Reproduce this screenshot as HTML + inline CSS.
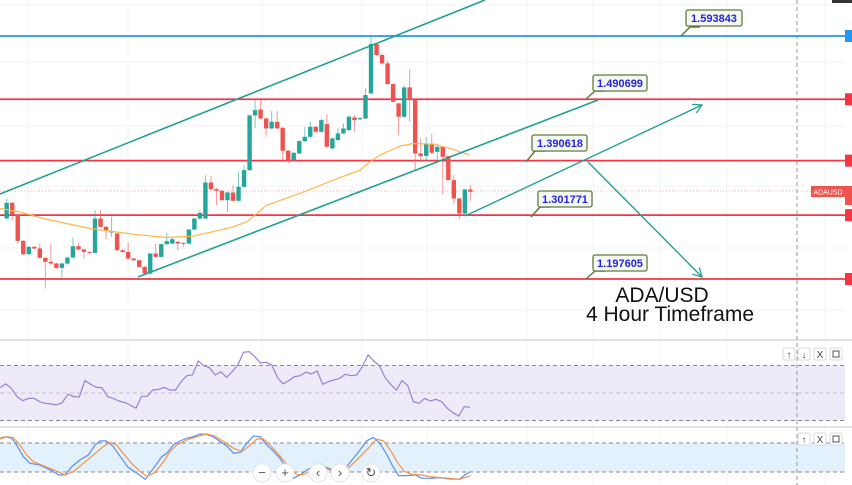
<!DOCTYPE html>
<html><head><meta charset="utf-8"><style>
html,body{margin:0;padding:0;background:#fff;}
svg{display:block;font-family:"Liberation Sans",sans-serif;}
</style></head><body>
<svg id="chart" width="852" height="485" viewBox="0 0 852 485">
<g id="grid"></g>
<g id="rsiPanel"></g>
<g id="stochPanel"></g>
<g id="levels"></g>
<g id="candles"></g>
<g id="overlay"></g>
</svg>
<script>
// ---- data ----
const levelValues = [1.593843, 1.490699, 1.390618, 1.301771, 1.197605];
const levelLabels = ["1.593843", "1.490699", "1.390618", "1.301771", "1.197605"];
const opens  = [1.2962,1.3218,1.3017,1.2598,1.2380,1.2500,1.2473,1.2321,1.2255,1.2228,1.2157,1.2228,1.2326,1.2511,1.2457,1.2418,1.2402,1.2962,1.2826,1.2745,1.2718,1.2446,1.2418,1.2310,1.2282,1.2174,1.2065,1.2391,1.2337,1.2544,1.2554,1.2582,1.2565,1.2554,1.2783,1.2962,1.2962,1.3550,1.3441,1.3414,1.3262,1.3387,1.3251,1.3479,1.3751,1.4643,1.4741,1.4594,1.4431,1.4540,1.4442,1.4067,1.3914,1.4023,1.4224,1.4295,1.4458,1.4377,1.4502,1.4105,1.4241,1.4350,1.4404,1.4611,1.4580,1.4594,1.5002,1.5808,1.5628,1.5492,1.5155,1.4839,1.4622,1.5100,1.4894,1.4023,1.3985,1.4186,1.4050,1.4132,1.3980,1.3588,1.3289,1.3044,1.3436];
const highs  = [1.3289,1.3234,1.3030,1.2610,1.2510,1.2520,1.2554,1.2330,1.2554,1.2240,1.2240,1.2340,1.2652,1.2571,1.2470,1.2430,1.3098,1.3098,1.2840,1.2990,1.2730,1.2460,1.2571,1.2320,1.2290,1.2190,1.2400,1.2554,1.2554,1.2729,1.2660,1.2600,1.2575,1.2790,1.2970,1.3100,1.3670,1.3659,1.3460,1.3430,1.3400,1.3506,1.3724,1.3833,1.4660,1.4894,1.4910,1.4610,1.4714,1.4714,1.4460,1.4080,1.4050,1.4240,1.4458,1.4540,1.4470,1.4594,1.4665,1.4280,1.4431,1.4513,1.4649,1.4649,1.4620,1.5084,1.5938,1.5830,1.5655,1.5536,1.5170,1.4850,1.5138,1.5394,1.4900,1.4268,1.4284,1.4339,1.4186,1.4140,1.3990,1.3670,1.3300,1.3452,1.3506];
const lows   = [1.2950,1.2935,1.2554,1.2360,1.2370,1.2460,1.2300,1.1820,1.2210,1.2140,1.2000,1.2210,1.2310,1.2440,1.2310,1.2390,1.2390,1.2810,1.2620,1.2663,1.2430,1.2400,1.2290,1.2270,1.2160,1.2050,1.2050,1.2320,1.2320,1.2530,1.2540,1.2446,1.2500,1.2540,1.2770,1.2940,1.2950,1.3420,1.3180,1.3250,1.3071,1.3240,1.3240,1.3460,1.3740,1.4431,1.4580,1.4295,1.4420,1.4420,1.3887,1.3860,1.3900,1.4010,1.4210,1.4280,1.4360,1.4360,1.4110,1.4090,1.4230,1.4340,1.4390,1.4377,1.4570,1.4580,1.4990,1.5610,1.5470,1.5140,1.4850,1.4322,1.4600,1.4540,1.3751,1.3887,1.3904,1.4020,1.3925,1.3354,1.3588,1.3207,1.2946,1.3030,1.3251];
const closes = [1.3218,1.3017,1.2598,1.2380,1.2500,1.2473,1.2321,1.2255,1.2228,1.2157,1.2228,1.2326,1.2511,1.2457,1.2418,1.2402,1.2962,1.2826,1.2756,1.2750,1.2446,1.2418,1.2310,1.2282,1.2174,1.2065,1.2391,1.2337,1.2544,1.2593,1.2625,1.2554,1.2554,1.2783,1.2962,1.3055,1.3550,1.3441,1.3414,1.3262,1.3387,1.3251,1.3479,1.3751,1.4643,1.4730,1.4594,1.4431,1.4540,1.4431,1.4067,1.3904,1.4034,1.4224,1.4295,1.4458,1.4377,1.4567,1.4132,1.4268,1.4350,1.4431,1.4622,1.4567,1.4600,1.4975,1.5808,1.5628,1.5492,1.5155,1.4866,1.4622,1.5100,1.4894,1.4023,1.3980,1.4186,1.4034,1.4132,1.3969,1.3588,1.3289,1.3044,1.3436,1.3398];
const maBars   = [-1.2,2.4,6.6,15.1,22.9,29,33.8,41,43.5,47.1,53.1,59.2,64,65.8,67.6,71.2,73.7,77.3,80.3,83.9];
const maValues = [1.3126,1.3071,1.2962,1.2799,1.2707,1.2652,1.2674,1.2826,1.2908,1.3180,1.3371,1.3588,1.3751,1.3887,1.3996,1.4143,1.4186,1.4176,1.4105,1.3996];
const rsiValues = [53.9,56.6,53.4,47.4,44.4,46.1,46.1,43.7,42.5,42.0,41.3,43.0,49.1,47.4,47.1,59.0,56.3,54.1,53.9,47.4,46.1,44.2,43.2,41.3,38.9,47.6,47.6,52.2,52.7,54.1,52.2,52.2,58.3,62.6,63.1,73.3,69.7,68.4,63.1,65.5,61.4,65.5,70.4,79.6,80.1,76.4,71.8,72.3,70.4,61.2,56.6,59.0,61.9,62.6,65.1,63.8,66.0,56.3,58.3,59.5,60.7,63.6,62.6,63.1,69.2,77.7,73.3,69.9,61.2,56.3,52.2,59.0,55.4,43.7,42.5,46.1,44.2,45.4,43.7,38.9,35.7,33.3,40.1,39.6];
const kBars = [-1.2,-0.3,0.9,1.8,3.0,4.2,6.0,7.9,9.4,10.6,11.8,13.3,14.8,16.0,16.9,18.1,19.3,20.8,22.0,23.6,25.1,26.6,28.1,29.0,30.2,31.4,32.6,33.8,35.0,36.2,37.4,38.7,39.9,41.1,42.3,43.5,44.7,45.9,47.1,48.3,49.5,50.7,51.9,53.2,54.4,55.6,56.8,58.0,59.2,60.4,61.6,62.8,64.0,65.2,66.4,67.6,68.9,69.8,71.0,72.5,74.0,75.2,76.7,78.5,80.3,82.1,83.0,84.0];
const kValues = [89.7,93.1,89.7,75.9,51.8,38.0,34.6,24.3,13.9,13.9,31.2,45.0,55.3,75.9,84.2,84.2,72.5,48.4,29.7,17.3,4.9,27.6,51.8,58.6,75.9,84.2,89.7,93.1,98.6,97.9,93.1,82.8,73.8,58.6,60.7,79.3,94.5,93.1,75.9,63.5,48.4,27.6,6.9,13.9,24.3,31.2,36.0,27.6,20.7,19.4,31.2,48.4,65.6,84.2,91.7,79.3,55.3,34.6,12.5,12.5,13.9,6.9,6.9,8.3,5.5,5.5,13.9,20.7];
const dBars = [-1.2,0.0,1.2,2.4,3.6,4.8,6.6,8.5,10.6,12.1,13.9,15.7,17.5,18.7,19.9,21.1,22.6,24.2,25.4,26.9,28.4,29.6,30.8,32.6,34.4,36.2,37.7,39.3,41.1,42.6,43.8,45.3,46.5,47.7,48.9,50.1,51.3,52.6,53.8,55.0,56.5,58.0,59.2,61.0,62.2,63.4,64.6,65.8,67.0,68.3,69.5,70.7,71.9,73.4,74.9,76.7,78.5,80.3,82.1,83.0,84.0];
const dValues = [88.3,93.1,91.0,75.9,55.3,41.4,33.1,24.3,13.9,20.7,38.0,55.3,72.5,81.4,75.9,58.6,38.0,20.7,10.4,19.4,41.4,62.1,75.9,86.2,93.1,98.6,94.5,82.8,69.0,62.1,72.5,88.3,88.3,75.9,60.7,44.8,27.6,13.9,15.2,22.1,31.0,29.7,24.3,20.7,31.2,44.8,58.6,72.5,88.3,84.2,65.6,41.4,22.1,15.2,13.9,10.4,8.3,6.9,4.8,8.3,12.5];

// ---- axes ----
function xBar(b){ return 6.7 + b*5.52; }
function yPrice(p){ return 36 + (1.593843 - p)/0.0016306; }
function xRsi(i){ return i*470/(rsiValues.length-1); }
function yRsi(v){ return 393 - (v-50)*1.375; }
function yStoch(v){ return 443 + (80-v)*0.483; }

const NS="http://www.w3.org/2000/svg";
function mk(parent, tag, attrs){ const e=document.createElementNS(NS,tag); for(const k in attrs) e.setAttribute(k,attrs[k]); parent.appendChild(e); return e; }

// grid
const grid=document.getElementById('grid');
[28,128,262,362,427,527,593,660,727,825].forEach(x=>{
  const l=mk(grid,'line',{x1:x,y1:0,x2:x,y2:485,stroke:'#f0f3fa','stroke-width':1});
  
  
});
[5,62,126,186,248,310].forEach(y=>{
  const l=mk(grid,'line',{x1:0,y1:y,x2:845,y2:y,stroke:'#f0f3fa','stroke-width':1});
  
  
});
const sep1=mk(grid,'line',{x1:0,y1:340,x2:852,y2:340,stroke:'#e0e3eb','stroke-width':2});


const sep2=mk(grid,'line',{x1:0,y1:427,x2:852,y2:427,stroke:'#e0e3eb','stroke-width':2});



// RSI panel
const rp=document.getElementById('rsiPanel');
const rb=mk(rp,'rect',{x:0,y:yRsi(70),width:845,height:yRsi(30)-yRsi(70),fill:'#efeaf8'});


[70,50,30].forEach(v=>{
  const l=mk(rp,'line',{x1:0,y1:yRsi(v),x2:845,y2:yRsi(v),stroke:v===50?'#c5c0d0':'#8a8794','stroke-width':1,'stroke-dasharray':'4,3'});
  
  
});
const rsiLine=mk(rp,'polyline',{points:rsiValues.map((v,i)=>xRsi(i).toFixed(1)+','+yRsi(v).toFixed(1)).join(' '),fill:'none',stroke:'#9c7fd8','stroke-width':1.2});



// Stoch panel
const sp=document.getElementById('stochPanel');
const sb=mk(sp,'rect',{x:0,y:yStoch(80),width:845,height:yStoch(20)-yStoch(80),fill:'#e3f1fc'});


[80,20].forEach(v=>{
  const l=mk(sp,'line',{x1:0,y1:yStoch(v),x2:845,y2:yStoch(v),stroke:'#8a8794','stroke-width':1,'stroke-dasharray':'4,3'});
  
  
});
const kl=mk(sp,'polyline',{points:kBars.map((b,i)=>xBar(b).toFixed(1)+','+yStoch(kValues[i]).toFixed(1)).join(' '),fill:'none',stroke:'#5b8ff0','stroke-width':1.2});


const dl=mk(sp,'polyline',{points:dBars.map((b,i)=>xBar(b).toFixed(1)+','+yStoch(dValues[i]).toFixed(1)).join(' '),fill:'none',stroke:'#f59245','stroke-width':1.2});



// levels
const lv=document.getElementById('levels');
const dv=mk(lv,'line',{x1:797,y1:0,x2:797,y2:485,stroke:'#9598a1','stroke-width':1,'stroke-dasharray':'4,3'});


const cur=mk(lv,'line',{x1:0,y1:191,x2:845,y2:191,stroke:'#f7a8a8','stroke-width':1,'stroke-dasharray':'1,2'});


levelValues.forEach((p,i)=>{
  const col=i===0?'#2196f3':'#f23645';
  const l=mk(lv,'line',{x1:0,y1:yPrice(p),x2:845,y2:yPrice(p),stroke:col,'stroke-width':1.8});
  
  
  const t=mk(lv,'rect',{x:845,y:yPrice(p)-6,width:7,height:12,fill:col});
  
  
});

// candles
const cg=document.getElementById('candles');
opens.forEach((o,i)=>{
  const c=closes[i], up=c>=o, col=up?'#26a69a':'#ef5350', x=xBar(i);
  const w=mk(cg,'line',{x1:x,y1:yPrice(highs[i]),x2:x,y2:yPrice(lows[i]),stroke:col,'stroke-width':1,opacity:0.6});
  
  
  const top=yPrice(Math.max(o,c)), h=Math.max(1,yPrice(Math.min(o,c))-top);
  const b=mk(cg,'rect',{x:x-2.2,y:top,width:4.4,height:h,fill:col});
  
  
});
const ma=mk(cg,'polyline',{points:maBars.map((b,i)=>xBar(b).toFixed(1)+','+yPrice(maValues[i]).toFixed(1)).join(' '),fill:'none',stroke:'#ffb74d','stroke-width':1.2});


</script>
<svg width="852" height="485" style="position:absolute;left:0;top:0">
  <defs><marker id="ah" markerWidth="10" markerHeight="10" refX="9" refY="5" orient="auto" markerUnits="userSpaceOnUse"><path d="M0,0 L9,5 L0,10" fill="none" stroke="#22a095" stroke-width="1.3"/></marker></defs>
  <line x1="0" y1="194" x2="485" y2="0" stroke="#22a095" stroke-width="1.6"/>
  <line x1="138" y1="277" x2="598" y2="100" stroke="#22a095" stroke-width="1.6"/>
  <line x1="465" y1="216" x2="702" y2="105" stroke="#22a095" stroke-width="1.4" marker-end="url(#ah)"/>
  <line x1="588" y1="162" x2="702" y2="277" stroke="#22a095" stroke-width="1.4" marker-end="url(#ah)"/>
  <g font-size="11" font-weight="bold" fill="#2424e8">
    <g><polyline points="681,36 690,27 700,27" fill="none" stroke="#5d7d3f" stroke-width="1.5"/><rect x="686" y="10" width="56" height="16" rx="2" fill="#f4f8ef" stroke="#5d7d3f" stroke-width="1.3"/><text x="714" y="22" text-anchor="middle">1.593843</text></g>
    <g><polyline points="586,99 595,91 605,91" fill="none" stroke="#5d7d3f" stroke-width="1.5"/><rect x="593" y="75" width="54" height="16" rx="2" fill="#f4f8ef" stroke="#5d7d3f" stroke-width="1.3"/><text x="620" y="87" text-anchor="middle">1.490699</text></g>
    <g><polyline points="526,162 535,151 545,151" fill="none" stroke="#5d7d3f" stroke-width="1.5"/><rect x="532" y="135" width="55" height="16" rx="2" fill="#f4f8ef" stroke="#5d7d3f" stroke-width="1.3"/><text x="560" y="147" text-anchor="middle">1.390618</text></g>
    <g><polyline points="531,217 540,207 550,207" fill="none" stroke="#5d7d3f" stroke-width="1.5"/><rect x="538" y="191" width="54" height="16" rx="2" fill="#f4f8ef" stroke="#5d7d3f" stroke-width="1.3"/><text x="565" y="203" text-anchor="middle">1.301771</text></g>
    <g><polyline points="586,279 595,271 605,271" fill="none" stroke="#5d7d3f" stroke-width="1.5"/><rect x="593" y="255" width="54" height="16" rx="2" fill="#f4f8ef" stroke="#5d7d3f" stroke-width="1.3"/><text x="620" y="267" text-anchor="middle">1.197605</text></g>
  </g>
  <text x="662" y="302" font-size="21" text-anchor="middle" fill="#111">ADA/USD</text>
  <text x="670" y="321" font-size="21" text-anchor="middle" fill="#111">4 Hour Timeframe</text>
  <rect x="811" y="186" width="34" height="11" fill="#ef5350"/>
  <text x="828" y="194.5" font-size="7" fill="#fff" text-anchor="middle">ADAUSD</text>
  <rect x="845" y="186" width="7" height="19" fill="#ef5350"/>
  <rect x="832" y="0" width="20" height="3" fill="#333"/>
  <g font-size="10" fill="#444" text-anchor="middle">
    <g><rect x="783" y="348" width="12" height="12" rx="2" fill="#fff" stroke="#d5d8de"/><text x="789" y="358">↑</text></g>
    <g><rect x="798" y="348" width="12" height="12" rx="2" fill="#fff" stroke="#d5d8de"/><text x="804" y="358">↓</text></g>
    <g><rect x="814" y="348" width="12" height="12" rx="2" fill="#fff" stroke="#d5d8de"/><text x="820" y="358">X</text></g>
    <g><rect x="830" y="348" width="12" height="12" rx="2" fill="#fff" stroke="#d5d8de"/><rect x="833" y="351" width="6" height="6" fill="none" stroke="#555"/></g>
    <g><rect x="798" y="433" width="12" height="12" rx="2" fill="#fff" stroke="#d5d8de"/><text x="804" y="443">↑</text></g>
    <g><rect x="814" y="433" width="12" height="12" rx="2" fill="#fff" stroke="#d5d8de"/><text x="820" y="443">X</text></g>
    <g><rect x="830" y="433" width="12" height="12" rx="2" fill="#fff" stroke="#d5d8de"/><rect x="833" y="436" width="6" height="6" fill="none" stroke="#555"/></g>
  </g>
  <g font-size="13" fill="#555" text-anchor="middle">
    <g><circle cx="262" cy="473" r="9" fill="#fff" stroke="#e6e6e6"/><text x="262" y="477">−</text></g>
    <g><circle cx="285" cy="473" r="9" fill="#fff" stroke="#e6e6e6"/><text x="285" y="477">+</text></g>
    <g><circle cx="318" cy="473" r="9" fill="#fff" stroke="#e6e6e6"/><text x="318" y="477">‹</text></g>
    <g><circle cx="340" cy="473" r="9" fill="#fff" stroke="#e6e6e6"/><text x="340" y="477">›</text></g>
    <g><circle cx="371" cy="473" r="9" fill="#fff" stroke="#e6e6e6"/><text x="371" y="477">↻</text></g>
  </g>
</svg>
</body></html>
